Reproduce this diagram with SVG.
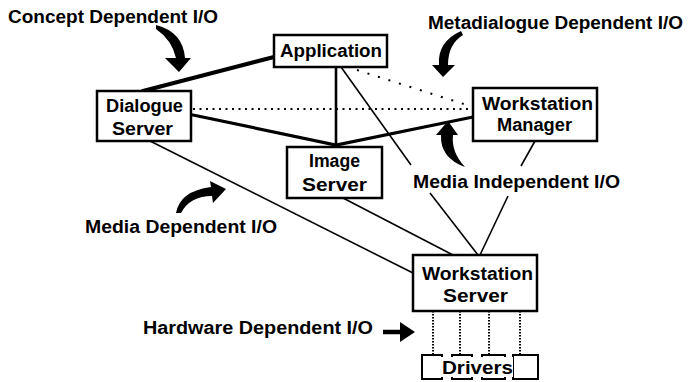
<svg xmlns="http://www.w3.org/2000/svg" width="690" height="382" viewBox="0 0 690 382">
  <style>
    .box { fill: #fff; stroke: #000; stroke-width: 2.5; }
    .lbl { font-family: "Liberation Sans", Arial, sans-serif; font-weight: bold; font-size: 18px; fill: #000; }
    .mid { text-anchor: middle; }
    .thin { stroke: #000; stroke-width: 1.6; fill: none; }
    .thick { stroke: #000; stroke-width: 3.2; fill: none; stroke-linecap: round; }
    .dots { stroke: #000; stroke-width: 2; fill: none; stroke-dasharray: 2 4.5; }
    .sparse { stroke: #000; stroke-width: 2; fill: none; stroke-dasharray: 2 9; }
    .fine { stroke: #000; stroke-width: 2; fill: none; stroke-dasharray: 1.5 1.5; }
    .arrow { fill: #000; stroke: none; }
  </style>

  <rect width="690" height="382" fill="#fff"/>

  <!-- connectors -->
  <g id="connectors">
    <!-- Application to Dialogue Server -->
    <line class="thick" x1="274" y1="57" x2="143" y2="91" style="stroke-width:4"/>
    <!-- Dialogue Server to Workstation Manager (dotted) -->
    <line class="dots" x1="193" y1="109" x2="471" y2="109"/>
    <!-- Application to Workstation Manager (sparse dots) -->
    <line class="sparse" x1="357" y1="70" x2="470" y2="106"/>
    <!-- Dialogue Server / Image Server / Workstation Manager -->
    <polyline class="thick" points="193,115 336,145 473,117"/>
    <!-- Application to Image Server -->
    <line class="thin" x1="336" y1="67" x2="336" y2="147" style="stroke-width:2.6"/>
    <!-- Application to Workstation Server, broken by label -->
    <line class="thin" x1="341" y1="67" x2="411" y2="165"/>
    <line class="thin" x1="430" y1="193" x2="478" y2="255"/>
    <!-- Workstation Manager to Workstation Server, broken by label -->
    <line class="thin" x1="535" y1="141" x2="521" y2="166"/>
    <line class="thin" x1="508" y1="196" x2="480" y2="255"/>
    <!-- Dialogue Server to Workstation Server -->
    <line class="thin" x1="150" y1="141" x2="413" y2="273"/>
    <!-- Image Server to Workstation Server -->
    <line class="thin" x1="343" y1="198" x2="453" y2="255"/>
    <!-- Workstation Server to drivers -->
    <line class="fine" x1="433" y1="311" x2="433" y2="355"/>
    <line class="fine" x1="460" y1="311" x2="460" y2="355"/>
    <line class="fine" x1="489" y1="311" x2="489" y2="355"/>
    <line class="fine" x1="520" y1="311" x2="520" y2="355"/>
  </g>

  <!-- nodes -->
  <g id="application">
    <rect class="box" x="274" y="35" width="113" height="32"/>
    <text class="lbl mid" x="331" y="57" textLength="102" lengthAdjust="spacingAndGlyphs">Application</text>
  </g>
  <g id="dialogue-server">
    <rect class="box" x="97" y="91" width="94" height="50"/>
    <text class="lbl mid" x="144.5" y="112" textLength="77" lengthAdjust="spacingAndGlyphs">Dialogue</text>
    <text class="lbl mid" x="142.5" y="135" textLength="61" lengthAdjust="spacingAndGlyphs">Server</text>
  </g>
  <g id="workstation-manager">
    <rect class="box" x="473" y="88" width="124" height="53"/>
    <text class="lbl mid" x="537.5" y="110" textLength="111" lengthAdjust="spacingAndGlyphs">Workstation</text>
    <text class="lbl mid" x="534.5" y="131" textLength="75" lengthAdjust="spacingAndGlyphs">Manager</text>
  </g>
  <g id="image-server">
    <rect class="box" x="287" y="147" width="95" height="51"/>
    <text class="lbl mid" x="334.5" y="167" textLength="51" lengthAdjust="spacingAndGlyphs">Image</text>
    <text class="lbl mid" x="334.5" y="191" textLength="65" lengthAdjust="spacingAndGlyphs">Server</text>
  </g>
  <g id="workstation-server">
    <rect class="box" x="413" y="255" width="124" height="56"/>
    <text class="lbl mid" x="477.5" y="280" textLength="111" lengthAdjust="spacingAndGlyphs">Workstation</text>
    <text class="lbl mid" x="475.5" y="302" textLength="65" lengthAdjust="spacingAndGlyphs">Server</text>
  </g>
  <g id="drivers">
    <rect class="box" x="422" y="355" width="20" height="24" style="stroke-width:2"/>
    <rect class="box" x="452" y="355" width="20" height="24" style="stroke-width:2"/>
    <rect class="box" x="482" y="355" width="23" height="24" style="stroke-width:2"/>
    <rect class="box" x="513" y="355" width="25" height="24" style="stroke-width:2"/>
    <rect x="441" y="357" width="72" height="20" fill="#fff"/>
    <text class="lbl mid" x="477.5" y="374" textLength="71" lengthAdjust="spacingAndGlyphs">Drivers</text>
  </g>

  <!-- annotations -->
  <g id="concept-dependent">
    <text class="lbl" x="8" y="23" textLength="210" lengthAdjust="spacingAndGlyphs">Concept Dependent I/O</text>
    <path class="arrow" d="M156,25 Q183,32 185,58 L191,58 L179,72 L165,58 L176,58 Q172,40 156,29 Z"/>
  </g>
  <g id="metadialogue-dependent">
    <text class="lbl" x="428" y="29" textLength="255" lengthAdjust="spacingAndGlyphs">Metadialogue Dependent I/O</text>
    <path class="arrow" d="M461,31 Q437,42 439,65 L432,65 L443,77 L455,65 L448,65 Q448,44 463,35 Z"/>
  </g>
  <g id="media-independent">
    <text class="lbl" x="413" y="188" textLength="207" lengthAdjust="spacingAndGlyphs">Media Independent I/O</text>
    <path class="arrow" d="M441,135 Q440,158 465,167 Q451,152 453,135 L458,135 L448,121 L436,135 Z"/>
  </g>
  <g id="media-dependent">
    <text class="lbl" x="85" y="233" textLength="192" lengthAdjust="spacingAndGlyphs">Media Dependent I/O</text>
    <path class="arrow" d="M176,213 Q180,191 211,187 L210,181 L226,189 L213,203 L212,196 Q190,196 181,213 Z"/>
  </g>
  <g id="hardware-dependent">
    <text class="lbl" x="143" y="334" textLength="230" lengthAdjust="spacingAndGlyphs">Hardware Dependent I/O</text>
    <line x1="383" y1="332" x2="402" y2="332" stroke="#000" stroke-width="4.5"/>
    <polygon class="arrow" points="400,322 415,332 400,342"/>
  </g>
</svg>
